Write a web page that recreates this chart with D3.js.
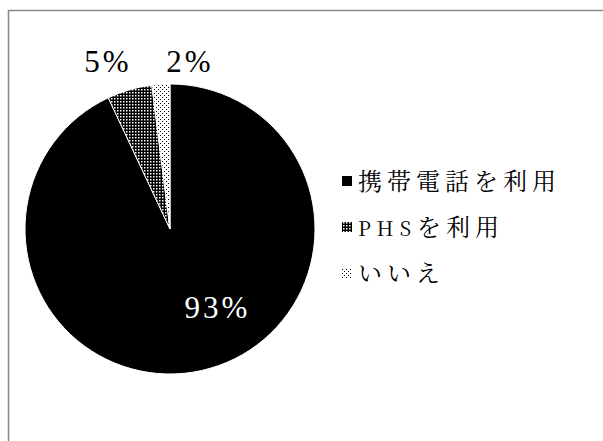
<!DOCTYPE html>
<html>
<head>
<meta charset="utf-8">
<script src="https://cdn.jsdelivr.net/npm/d3@7"></script>
<style>
  html, body { margin: 0; padding: 0; background: #fff; }
  svg { display: block; }
</style>
</head>
<body>
<svg id="chart" width="603" height="441"></svg>
<script>
// Share of respondents by phone type (percent)
const categories = ["携帯電話を利用", "PHSを利用", "いいえ"];
const values = [93, 5, 2];
const labels = ["93%", "5%", "2%"];

const svg = d3.select("#chart");
const W = 603, H = 441;
const PCT_FONT = "'Liberation Serif', serif";
const LEG_FONT = "'Noto Serif CJK JP', 'Liberation Serif', serif";

// Fill patterns
const defs = svg.append("defs");
const dense = defs.append("pattern")
  .attr("id", "pat-dense").attr("patternUnits", "userSpaceOnUse")
  .attr("width", 3).attr("height", 3);
dense.append("rect").attr("width", 3).attr("height", 3).attr("fill", "#000");
dense.append("rect").attr("x", 1).attr("y", 1).attr("width", 1.5).attr("height", 1.5).attr("fill", "#fff");

const sparse = defs.append("pattern")
  .attr("id", "pat-sparse").attr("patternUnits", "userSpaceOnUse")
  .attr("width", 4).attr("height", 4);
sparse.append("rect").attr("width", 4).attr("height", 4).attr("fill", "#fff");
sparse.append("rect").attr("x", 0).attr("y", 0).attr("width", 1).attr("height", 1).attr("fill", "#000");
sparse.append("rect").attr("x", 2).attr("y", 2).attr("width", 1).attr("height", 1).attr("fill", "#000");

const fills = ["#000", "url(#pat-dense)", "url(#pat-sparse)"];

// Chart-area frame (runs off the right and bottom edges)
svg.append("rect")
  .attr("x", 8.5).attr("y", 10.5)
  .attr("width", W).attr("height", H)
  .attr("fill", "none").attr("stroke", "#888").attr("stroke-width", 1.5);

// Pie
const cx = 170, cy = 229, r = 145;
const pie = d3.pie().sort(null).value(d => d)(values);
const arc = d3.arc().innerRadius(0).outerRadius(r);

const g = svg.append("g").attr("transform", `translate(${cx},${cy})`);
g.selectAll("path.slice")
  .data(pie)
  .join("path")
  .attr("class", "slice")
  .attr("d", arc)
  .attr("fill", (d, i) => fills[i])
  .attr("stroke", "#fff")
  .attr("stroke-width", 1);

// Percent labels: inside for the large slice, above the pie for the small ones
const inner = d3.arc().innerRadius(r * 0.55).outerRadius(r * 0.55);

g.selectAll("text.pct")
  .data(pie)
  .join("text")
  .attr("class", "pct")
  .style("font-family", PCT_FONT)
  .style("font-size", "31px")
  .style("letter-spacing", "3px")
  .attr("text-anchor", "middle")
  .attr("fill", (d, i) => i === 0 ? "#fff" : "#000")
  .attr("x", (d, i) => {
    if (i === 0) return inner.centroid(d)[0] + 30;
    return i === 1 ? -62 : 20;
  })
  .attr("y", (d, i) => i === 0 ? inner.centroid(d)[1] + 11 : -157)
  .text((d, i) => labels[i]);

// Legend
const legend = svg.append("g").attr("transform", "translate(342,181)");
const rowGap = 46;
const item = legend.selectAll("g.item")
  .data(categories)
  .join("g")
  .attr("class", "item")
  .attr("transform", (d, i) => `translate(0,${i * rowGap})`);

item.append("rect")
  .attr("x", 0).attr("y", -5)
  .attr("width", 10).attr("height", 10)
  .attr("fill", (d, i) => fills[i]);

// Latin runs are set smaller and wider than the kana/kanji around them
item.append("text")
  .attr("class", "leg")
  .style("font-family", LEG_FONT)
  .style("font-size", "24px")
  .attr("x", 16).attr("y", 9)
  .attr("fill", "#000")
  .each(function(d) {
    const t = d3.select(this);
    d.split(/([A-Za-z]+)/).filter(s => s.length).forEach(s => {
      const latin = /^[A-Za-z]+$/.test(s);
      t.append("tspan")
        .style("font-family", LEG_FONT)
        .style("font-size", latin ? "20px" : "24px")
        .style("letter-spacing", latin ? "6px" : "5px")
        .text(s);
    });
  });
</script>
</body>
</html>
